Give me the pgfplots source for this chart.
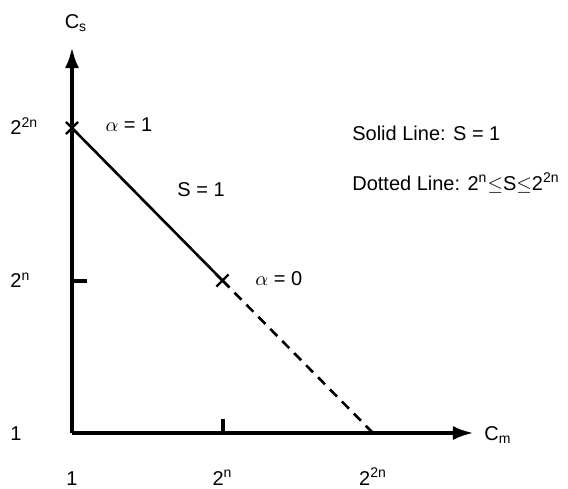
\documentclass[border=0pt]{standalone}
\usepackage{fontspec}
\setmainfont{Liberation Sans}
\usepackage{pgfplots}
\pgfplotsset{compat=1.18}
\usetikzlibrary{arrows.meta}

\begin{document}
\begin{tikzpicture}[font=\fontsize{10}{12}\selectfont]
\useasboundingbox (-36pt,-27.5pt) rectangle (248pt,216.5pt);
\begin{axis}[
  anchor=origin, at={(0,0)},
  x=75.25pt, y=76.25pt,
  xmin=0, xmax=2.671, ymin=0, ymax=2.531,
  axis lines=left,
  clip=false,
  axis line style={line width=2pt, -{Latex[length=10.5pt,width=7pt]}},
  tick align=inside,
  major tick length=0pt,
  xtick={0,1,2},
  xticklabels={1, 2\textsuperscript{n}, 2\textsuperscript{2n}},
  ytick={0,1,2},
  yticklabels={1, 2\textsuperscript{n}, 2\textsuperscript{2n}},
  extra x ticks={1}, extra x tick labels={},
  extra y ticks={1}, extra y tick labels={},
  extra x tick style={major tick length=7pt, tick style={line width=2pt, black}},
  extra y tick style={major tick length=7.5pt, tick style={line width=2pt, black}},
  xticklabel style={anchor=base, inner sep=0pt, yshift=-26pt},
  yticklabel style={anchor=base west, inner sep=0pt, xshift=-31pt, yshift=-3.5pt},
  xlabel={C\textsubscript{m}},
  ylabel={C\textsubscript{s}},
  every axis x label/.style={at={(rel axis cs:1,0)}, anchor=base west, inner sep=0pt, xshift=5pt, yshift=-3.5pt},
  every axis y label/.style={at={(rel axis cs:0,1)}, anchor=base, inner sep=0pt, xshift=2pt, yshift=9.5pt},
]
% S = 1 segment between alpha = 1 and alpha = 0
\addplot[black, line width=1.3pt, mark=x, mark size=4.3pt, mark options={line width=1.1pt}]
  coordinates {(0,2) (1,1)};
% range 2^n <= S <= 2^{2n}
\addplot[black, line width=1.3pt, dash pattern=on 5pt off 3.5pt]
  coordinates {(1,1) (2,0)};

\node[anchor=base west, inner sep=0pt] at (axis cs:0.22,1.974) {$\alpha$ = 1};
\node[anchor=base west, inner sep=0pt] at (axis cs:0.698,1.554) {S = 1};
\node[anchor=base west, inner sep=0pt] at (axis cs:1.216,0.970) {$\alpha$ = 0};
\node[anchor=base west, inner sep=0pt] at (axis cs:1.860,1.915) {Solid Line: S = 1};
\node[anchor=base west, inner sep=0pt] at (axis cs:1.860,1.593)
  {Dotted Line: 2\textsuperscript{n}$\leq$S$\leq$2\textsuperscript{2n}};
\end{axis}
\end{tikzpicture}
\end{document}
